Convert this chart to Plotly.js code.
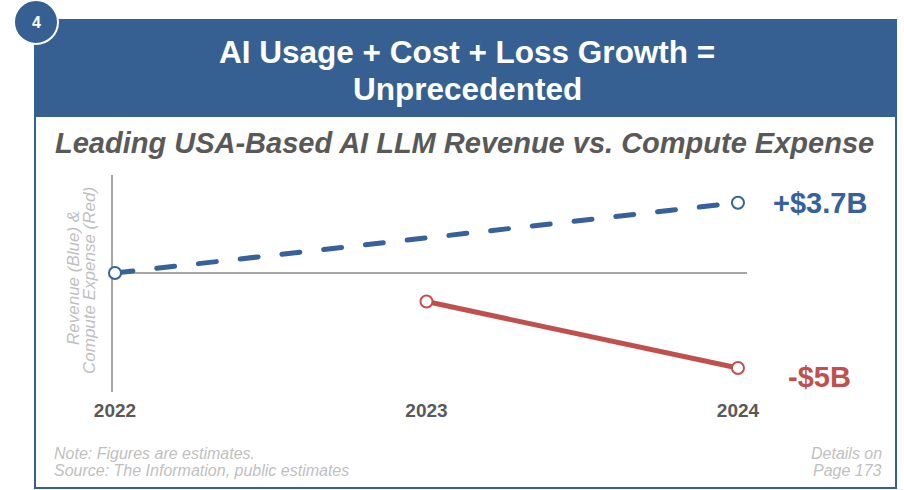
<!DOCTYPE html>
<html>
<head>
<meta charset="utf-8">
<script src="https://cdn.plot.ly/plotly-3.0.1.min.js"></script>
<style>
html,body{margin:0;padding:0;background:#fff;}
#chart{width:904px;height:490px;}
#chart .scatterlayer .js-line{stroke-linecap:round;}
</style>
</head>
<body>
<div id="chart"></div>
<script>
// ---- data ----
const years = ['2022', '2023', '2024'];
const revenueYears = [2022, 2024];
const revenueValues = [0, 3.7];          // $B, Blue
const expenseYears = [2023, 2024];
const expenseValues = [-1.5, -5];        // $B, Red
const revenueLabel = '+$3.7B';
const expenseLabel = '-$5B';
const headerLines = ['AI Usage + Cost + Loss Growth =', 'Unprecedented'];
const chartTitle = 'Leading USA-Based AI LLM Revenue vs. Compute Expense';
const yTitleLines = ['Revenue (Blue) &', 'Compute Expense (Red)'];
const noteLines = ['Note: Figures are estimates.', 'Source: The Information, public estimates'];
const detailsLines = ['Details on', 'Page 173'];
const badgeText = '4';

// ---- layout helpers (pixel -> paper) ----
const L = 113, R = 747, T = 175, B = 392, W = 904, H = 490;
const px = x => (x - L) / (R - L);
const py = y => (B - y) / (B - T);

const BLUE = '#36619A';
const HEADER = '#366092';
const RED = '#C0504D';
const GRAY = '#A6A6A6';
const LIGHT = '#BFBFBF';
const FONT = '"Liberation Sans", Arial, sans-serif';

const traces = [
  {
    x: revenueYears, y: revenueValues, type: 'scatter', mode: 'lines+markers',
    line: {color: BLUE, width: 5, dash: '18px,24px'},
    marker: {symbol: 'circle', size: 12, color: '#fff', line: {color: BLUE, width: 2}},
    cliponaxis: false, hoverinfo: 'skip'
  },
  {
    x: expenseYears, y: expenseValues, type: 'scatter', mode: 'lines+markers',
    line: {color: RED, width: 5},
    marker: {symbol: 'circle', size: 12, color: '#fff', line: {color: RED, width: 2}},
    cliponaxis: false, hoverinfo: 'skip'
  }
];

function txt(text, x, y, size, color, opts) {
  return Object.assign({
    text: text, xref: 'paper', yref: 'paper', x: px(x), y: py(y),
    xanchor: 'center', yanchor: 'middle', showarrow: false,
    font: {family: FONT, size: size, color: color}
  }, opts || {});
}

const annotations = [
  txt(headerLines[0], 467, 52, 31.5, '#fff'),
  txt(headerLines[1], 467, 89, 31.5, '#fff'),
  txt(badgeText, 36, 22, 16, '#fff'),
  txt(chartTitle, 464, 143, 29, '#595959'),
  txt(yTitleLines[0], 73, 278, 17, LIGHT, {textangle: -90}),
  txt(yTitleLines[1], 89, 281, 17, LIGHT, {textangle: -90}),
  txt(noteLines[0], 52, 453, 16, LIGHT, {xanchor: 'left'}),
  txt(noteLines[1], 52, 470, 16, LIGHT, {xanchor: 'left'}),
  txt(detailsLines[0], 884, 453, 16, LIGHT, {xanchor: 'right'}),
  txt(detailsLines[1], 884, 470, 16, LIGHT, {xanchor: 'right'}),
  {text: revenueLabel, x: 2024, y: revenueValues[1], xanchor: 'left', yanchor: 'middle', xshift: 33, showarrow: false,
   font: {family: FONT, size: 29, color: BLUE}},
  {text: expenseLabel, x: 2024, y: expenseValues[1], xanchor: 'left', yanchor: 'middle', xshift: 48, yshift: -9, showarrow: false,
   font: {family: FONT, size: 29, color: RED}}
];
annotations.forEach(a => { a.font.weight = 'bold'; });
[4,5,6,7,8,9].forEach(i => { annotations[i].font.weight = 'normal'; annotations[i].font.style = 'italic'; });
annotations[3].font.style = 'italic';

const layout = {
  width: W, height: H,
  margin: {l: L, r: W - R, t: T, b: H - B, pad: 0},
  paper_bgcolor: '#fff', plot_bgcolor: 'rgba(0,0,0,0)',
  showlegend: false,
  font: {family: FONT},
  xaxis: {
    range: [2021.9936, 2024.029], showgrid: false, zeroline: false,
    showline: false, ticks: '',
    tickmode: 'array', tickvals: years.map(Number), ticktext: years,
    tickfont: {family: FONT, size: 19, color: '#595959', weight: 'bold'},
    ticklabelstandoff: 5
  },
  yaxis: {
    range: [-6.26, 5.16], showgrid: false, showticklabels: false,
    zeroline: true, zerolinecolor: GRAY, zerolinewidth: 2,
    showline: true, linecolor: GRAY, linewidth: 2, layer: 'below traces'
  },
  shapes: [
    {type: 'rect', xref: 'paper', yref: 'paper', x0: px(35), x1: px(896), y0: py(20), y1: py(488),
     line: {color: HEADER, width: 2}, fillcolor: 'rgba(0,0,0,0)', layer: 'below'},
    {type: 'rect', xref: 'paper', yref: 'paper', x0: px(35), x1: px(896), y0: py(20), y1: py(117),
     line: {width: 0}, fillcolor: HEADER, layer: 'below'},
    {type: 'circle', xref: 'paper', yref: 'paper', x0: px(14), x1: px(58), y0: py(0), y1: py(44),
     line: {color: '#fff', width: 2}, fillcolor: HEADER, layer: 'above'}
  ],
  annotations: annotations
};

Plotly.newPlot('chart', traces, layout, {staticPlot: true, displayModeBar: false});
</script>
</body>
</html>
